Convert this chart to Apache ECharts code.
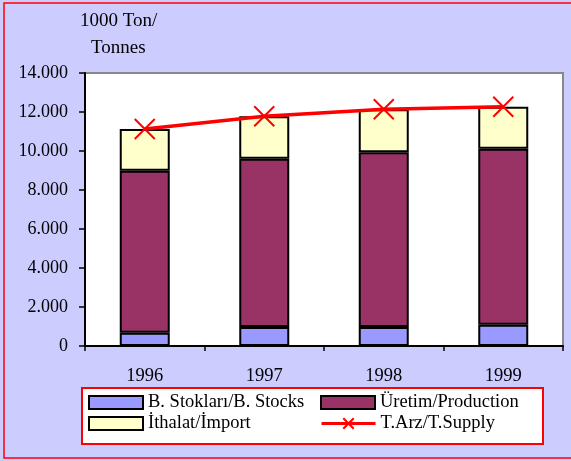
<!DOCTYPE html>
<html>
<head>
<meta charset="utf-8">
<script src="https://cdn.jsdelivr.net/npm/echarts@6/dist/echarts.min.js"></script>
<style>
  html, body { margin: 0; padding: 0; background: #ccccff; }
  #chart { width: 571px; height: 461px; }
</style>
</head>
<body>
<div id="chart"></div>
<script>
// veriler (1000 ton)
var years = ['1996', '1997', '1998', '1999'];
var stocks = [680, 975, 980, 1095];
var production = [8310, 8630, 8950, 9025];
var imports = [2140, 2175, 2210, 2150];
var supply = [11130, 11780, 12140, 12270];
var yTicks = { min: 0, max: 14000, step: 2000 };

var names = ['B. Stokları/B. Stocks', 'Üretim/Production', 'İthalat/İmport', 'T.Arz/T.Supply'];
var serif = '"Liberation Serif", "DejaVu Serif", serif';

var chart = echarts.init(document.getElementById('chart'));

function oneLegend(name, left, top) {
    return {
        data: [name],
        left: left,
        top: top,
        padding: 0,
        icon: name === names[3] ? undefined : 'rect',
        itemWidth: 54,
        itemHeight: 13,
        itemGap: 0,
        selectedMode: false,
        lineStyle: { width: 3 },
        textStyle: { fontFamily: serif, fontSize: 18.5, color: '#000' }
    };
}

var option = {
    backgroundColor: '#ccccff',
    animation: false,
    grid: {
        left: 85,
        right: 8,
        top: 73,
        bottom: 115,
        show: true,
        backgroundColor: '#fff',
        borderColor: '#888',
        borderWidth: 2
    },
    graphic: [
        {
            type: 'rect',
            shape: { x: 4, y: 3, width: 600, height: 455 },
            style: { fill: 'none', stroke: '#ff0000', lineWidth: 1.5 },
            z: 100
        },
        {
            type: 'rect',
            shape: { x: 82, y: 388, width: 461, height: 56 },
            style: { fill: '#fff', stroke: '#ff0000', lineWidth: 2 },
            z: -1
        },
        {
            type: 'text', left: 80, top: 12,
            style: { text: '1000 Ton/', font: '19px ' + serif, fill: '#000' }
        },
        {
            type: 'text', left: 91, top: 39,
            style: { text: 'Tonnes', font: '19px ' + serif, fill: '#000' }
        }
    ],
    legend: [
        oneLegend(names[0], 88, 393),
        oneLegend(names[1], 320, 393),
        oneLegend(names[2], 88, 414),
        oneLegend(names[3], 320, 414)
    ],
    xAxis: {
        type: 'category',
        data: years,
        axisLine: { lineStyle: { color: '#000', width: 2 } },
        axisTick: { show: true, length: 5, lineStyle: { color: '#000', width: 1.5 } },
        axisLabel: { fontFamily: serif, fontSize: 18.5, color: '#000', margin: 21 }
    },
    yAxis: {
        type: 'value',
        min: yTicks.min,
        max: yTicks.max,
        interval: yTicks.step,
        splitLine: { show: false },
        axisLine: { show: true, lineStyle: { color: '#000', width: 2 } },
        axisTick: { show: true, length: 6, lineStyle: { color: '#000', width: 1.5 } },
        axisLabel: {
            fontFamily: serif, fontSize: 18, color: '#000', margin: 17,
            formatter: function (v) {
                return v === 0 ? '0' : (v / 1000) + '.000';
            }
        }
    },
    series: [
        {
            name: names[0], type: 'bar', stack: 'arz', data: stocks, barWidth: 50,
            itemStyle: { color: '#9999ff', borderColor: '#000', borderWidth: 2 }
        },
        {
            name: names[1], type: 'bar', stack: 'arz', data: production, barWidth: 50,
            itemStyle: { color: '#993366', borderColor: '#000', borderWidth: 2 }
        },
        {
            name: names[2], type: 'bar', stack: 'arz', data: imports, barWidth: 50,
            itemStyle: { color: '#ffffcc', borderColor: '#000', borderWidth: 2 }
        },
        {
            name: names[3], type: 'line', data: supply, z: 10,
            symbol: 'path://M0,0L10,10M10,0L0,10',
            symbolSize: 20,
            lineStyle: { color: '#ff0000', width: 3.5 },
            itemStyle: { color: 'none', borderColor: '#ff0000', borderWidth: 2 }
        }
    ]
};

chart.setOption(option);
</script>
</body>
</html>
